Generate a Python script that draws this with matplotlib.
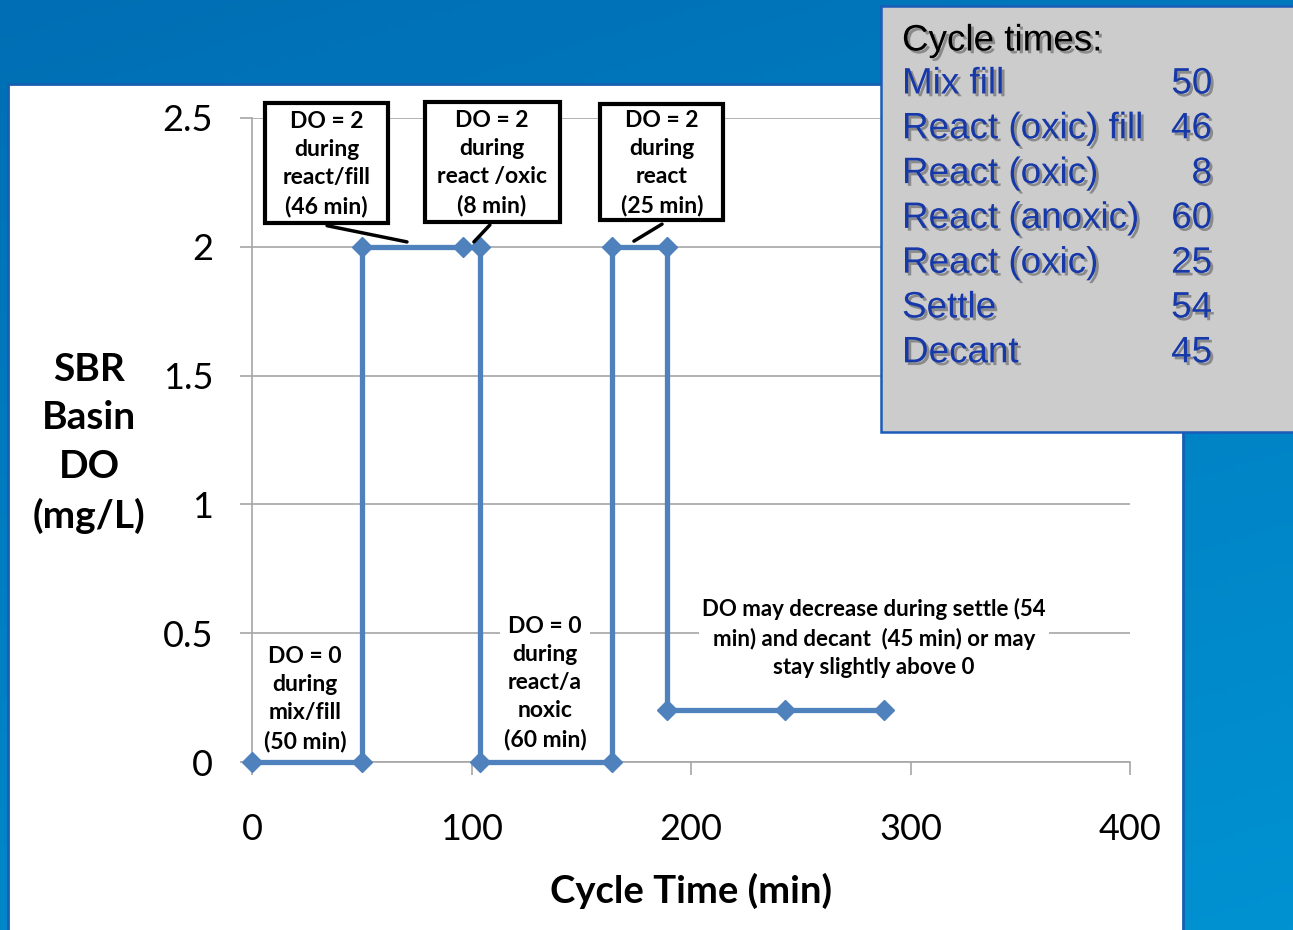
import numpy as np
import matplotlib
matplotlib.use("Agg")
import matplotlib.pyplot as plt
from matplotlib.patches import Rectangle
import matplotlib.patheffects as pe

# ---------------- data ----------------
cycle_time = [0, 50, 50, 96, 104, 104, 164, 164, 189, 189, 243, 288]
do_level   = [0, 0, 2, 2, 2, 0, 0, 2, 2, 0.2, 0.2, 0.2]

x_ticks = [0, 100, 200, 300, 400]
y_ticks = [0, 0.5, 1, 1.5, 2, 2.5]
y_tick_labels = ["0", "0.5", "1", "1.5", "2", "2.5"]

phase_names = ["Mix fill", "React (oxic) fill", "React (oxic)", "React (anoxic)",
               "React (oxic)", "Settle", "Decant"]
phase_minutes = [50, 46, 8, 60, 25, 54, 45]

box_notes = ["DO = 2\nduring\nreact/fill\n(46 min)",
             "DO = 2\nduring\nreact /oxic\n(8 min)",
             "DO = 2\nduring\nreact\n(25 min)"]

plain_notes = ["DO = 0\nduring\nmix/fill\n(50 min)",
               "DO = 0\nduring\nreact/a\nnoxic\n(60 min)",
               "DO may decrease during settle (54\nmin) and decant  (45 min) or may\nstay slightly above 0"]

# ---------------- layout (annotation geometry, in axis units) ----------------
# callout boxes: (x0, x1, y0, y1)
box_rects = [(5.9, 62.0, 2.092, 2.558),
             (78.6, 140.1, 2.096, 2.562),
             (158.7, 214.8, 2.104, 2.554)]
# leader lines: (start, end)
leaders = [((34.2, 2.082), (70.6, 2.019)),
           ((108.4, 2.085), (101.1, 2.019)),
           ((186.8, 2.088), (174.0, 2.022))]
plain_note_xy = [(24.1, 0.245), (133.5, 0.307), (283.4, 0.48)]

# ---------------- figure ----------------
W, H = 1293, 930
fig = plt.figure(figsize=(W / 100, H / 100), dpi=100)

def fx(x):
    return x / W

def fy(y):
    return 1 - y / H

FONT = ["Lato", "DejaVu Sans"]

# background gradient
bg = fig.add_axes([0, 0, 1, 1], zorder=-10)
bg.set_axis_off()
gy, gx = np.mgrid[0:1:200j, 0:1:200j]
t = 0.3 * gx + 0.7 * gy
c0 = np.array([0x00, 0x6e, 0xb4]) / 255
c1 = np.array([0x00, 0x92, 0xd2]) / 255
img = c0[None, None, :] * (1 - t[..., None]) + c1[None, None, :] * t[..., None]
bg.imshow(img, extent=[0, W, H, 0], aspect="auto")
bg.set_xlim(0, W)
bg.set_ylim(H, 0)
# white panel
bg.add_patch(Rectangle((8, 84), 1175, 850, facecolor="white",
                       edgecolor="#1560b0", linewidth=2))

# ---------------- main axes ----------------
ax = fig.add_axes([fx(252), fy(762), (1130 - 252) / W, (762 - 118) / H])
ax.set_facecolor("white")
ax.set_xlim(0, 400)
ax.set_ylim(0, 2.5)

ax.plot(cycle_time, do_level, color="#4f81bd", linewidth=3.8, marker="D",
        markersize=10.5, markerfacecolor="#4f81bd", markeredgecolor="#4f81bd",
        zorder=3, clip_on=False, solid_joinstyle="miter")

ax.set_xticks(x_ticks)
ax.set_xticklabels([str(v) for v in x_ticks])
ax.set_yticks(y_ticks)
ax.set_yticklabels(y_tick_labels)
ax.yaxis.grid(True, color="#a6a6a6", linewidth=1.2)
ax.xaxis.grid(False)
ax.set_axisbelow(True)
for s in ["top", "right"]:
    ax.spines[s].set_visible(False)
for s in ["left", "bottom"]:
    ax.spines[s].set_color("#a6a6a6")
    ax.spines[s].set_linewidth(1.2)
ax.tick_params(axis="both", direction="out", length=9, width=1.2,
               color="#a6a6a6", labelsize=26)
for lab in ax.get_xticklabels() + ax.get_yticklabels():
    lab.set_family(FONT)
ax.tick_params(axis="x", pad=28)
ax.tick_params(axis="y", pad=19)

ax.set_xlabel("Cycle Time (min)", fontsize=27.5, fontweight="bold",
              family=FONT, labelpad=19)
fig.text(fx(89), fy(443), "SBR\nBasin\nDO\n(mg/L)", ha="center", va="center",
         fontsize=28, fontweight="bold", family=FONT, linespacing=1.47)

# boxed callouts with leader lines
for txt, (x0, x1, y0, y1), (start, end) in zip(box_notes, box_rects, leaders):
    ax.add_patch(Rectangle((x0, y0), x1 - x0, y1 - y0, facecolor="white",
                           edgecolor="black", linewidth=3, zorder=5,
                           clip_on=False, joinstyle="miter"))
    ax.text((x0 + x1) / 2, (y0 + y1) / 2 - 0.005, txt, ha="center", va="center",
            fontsize=16.5, fontweight="bold", family=FONT, linespacing=1.42,
            zorder=6, clip_on=False)
    ax.annotate("", xy=end, xytext=start, textcoords="data",
                arrowprops=dict(arrowstyle="-", color="black", linewidth=2.5,
                                shrinkA=0, shrinkB=0), zorder=6)

# plain notes (white background)
for i, (txt, (tx, ty)) in enumerate(zip(plain_notes, plain_note_xy)):
    ax.text(tx, ty, txt, ha="center", va="center",
            fontsize=16.5 if i < 2 else 16, fontweight="bold", family=FONT,
            linespacing=1.42, zorder=2,
            bbox=dict(boxstyle="square,pad=0.15", facecolor="white",
                      edgecolor="none"))

# ---------------- cycle times box ----------------
box = Rectangle((fx(881), fy(432)), fx(1300 - 881), (432 - 6) / H,
                transform=fig.transFigure, facecolor="#cccccc",
                edgecolor="#1a5cb8", linewidth=1.8, zorder=10)
fig.patches.append(box)

shadow = [pe.withSimplePatchShadow(offset=(2, -2), shadow_rgbFace="#555555",
                                   alpha=0.55)]
BOXFONT = ["Liberation Sans", "DejaVu Sans"]
t0 = fig.text(fx(902), fy(41), "Cycle times:", ha="left", va="center",
              fontsize=26.5, color="black", family=BOXFONT, zorder=11)
t0.set_path_effects(shadow)
row_y0, row_dy = 84, 44.8
for i, (name, mins) in enumerate(zip(phase_names, phase_minutes)):
    yy = row_y0 + i * row_dy
    a = fig.text(fx(902), fy(yy), name, ha="left", va="center", fontsize=26.5,
                 color="#1638a8", family=BOXFONT, zorder=11)
    b = fig.text(fx(1212), fy(yy), str(mins), ha="right", va="center",
                 fontsize=26.5, color="#1638a8", family=BOXFONT, zorder=11)
    a.set_path_effects(shadow)
    b.set_path_effects(shadow)

fig.savefig("out.png", dpi=100)
